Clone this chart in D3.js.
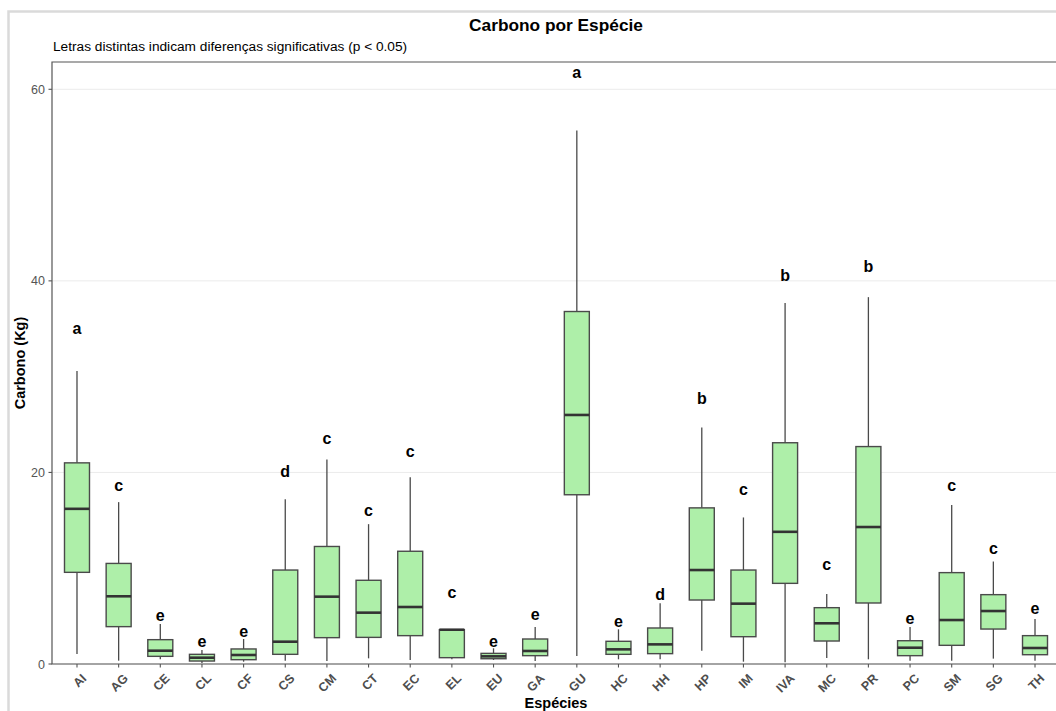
<!DOCTYPE html>
<html>
<head>
<meta charset="utf-8">
<script src="https://cdn.jsdelivr.net/npm/d3@7"></script>
<style>
  html, body { margin: 0; padding: 0; background: #fff; }
  svg { display: block; font-family: "Liberation Sans", Arial, Helvetica, sans-serif; }
</style>
</head>
<body>
<svg id="chart" width="1056" height="711"></svg>
<script>
const species = ["AI","AG","CE","CL","CF","CS","CM","CT","EC","EL","EU","GA","GU","HC","HH","HP","IM","IVA","MC","PR","PC","SM","SG","TH"];
const whiskerLow  = [1.04, 0.35, 0.49, 0.10, 0.24, 0.35, 0.31, 0.59, 0.42, 0.50, 0.42, 0.31, 0.84, 0.49, 0.49, 1.39, 0.24, 0.17, 0.63, 0.49, 0.35, 0.35, 0.56, 0.35];
const q1          = [9.57, 3.90, 0.80, 0.31, 0.45, 1.01, 2.75, 2.78, 2.96, 0.66, 0.55, 0.87, 17.67, 1.01, 1.08, 6.68, 2.85, 8.42, 2.40, 6.37, 0.87, 1.95, 3.65, 0.97];
const medians     = [16.2, 7.07, 1.39, 0.66, 0.94, 2.33, 7.03, 5.36, 5.95, 3.58, 0.80, 1.36, 26.0, 1.53, 2.05, 9.81, 6.30, 13.8, 4.25, 14.3, 1.70, 4.59, 5.53, 1.67];
const q3          = [21.0, 10.5, 2.54, 1.01, 1.57, 9.81, 12.27, 8.74, 11.77, 3.58, 1.11, 2.61, 36.8, 2.37, 3.76, 16.3, 9.81, 23.1, 5.88, 22.7, 2.43, 9.54, 7.24, 2.96];
const whiskerHigh = [30.6, 16.9, 4.18, 1.46, 2.61, 17.2, 21.35, 14.6, 19.5, 3.58, 1.64, 3.86, 55.7, 3.62, 6.33, 24.7, 15.3, 37.7, 7.31, 38.3, 3.86, 16.6, 10.7, 4.70];
const letters     = ["a","c","e","e","e","d","c","c","c","c","e","e","a","e","d","b","c","b","c","b","e","c","c","e"];
const letterY     = [34.9, 18.5, 4.94, 2.22, 3.27, 20.08, 23.39, 15.9, 22.07, 7.31, 2.22, 5.01, 61.62, 4.31, 7.28, 27.8, 18.09, 40.61, 10.26, 41.48, 4.67, 18.51, 11.9, 5.64];
const yTicks = [0, 20, 40, 60];

const title = "Carbono por Espécie";
const subtitle = "Letras distintas indicam diferenças significativas (p < 0.05)";
const xTitle = "Espécies";
const yTitle = "Carbono (Kg)";

const data = species.map((s, i) => ({
  s, lo: whiskerLow[i], q1: q1[i], med: medians[i], q3: q3[i], hi: whiskerHigh[i],
  letter: letters[i], ly: letterY[i]
}));

const svg = d3.select("#chart");
const panel = { left: 52, right: 1060, top: 62, bottom: 664 };

// outer frame
svg.append("rect")
  .attr("x", 8.5).attr("y", 11.5)
  .attr("width", 1100).attr("height", 800)
  .attr("fill", "none").attr("stroke", "#dadada").attr("stroke-width", 2.5);

const x = d3.scaleBand().domain(species)
  .range([panel.left, panel.right]).paddingInner(0).paddingOuter(0.1);
const y = d3.scaleLinear().domain([0, 62.85]).range([panel.bottom, panel.top]);

// gridlines
svg.append("g").selectAll("line").data(yTicks).join("line")
  .attr("x1", panel.left).attr("x2", panel.right)
  .attr("y1", d => y(d)).attr("y2", d => y(d))
  .attr("stroke", "#ebebeb").attr("stroke-width", 1);

const cx = d => x(d.s) + x.bandwidth() / 2;
const bw = x.bandwidth() * 0.6;

const g = svg.append("g");
// whiskers
g.selectAll("line.wl").data(data).join("line").attr("class", "wl")
  .attr("x1", cx).attr("x2", cx)
  .attr("y1", d => y(d.lo)).attr("y2", d => y(d.q1))
  .attr("stroke", "#4a4a4a").attr("stroke-width", 1.3);
g.selectAll("line.wh").data(data).join("line").attr("class", "wh")
  .attr("x1", cx).attr("x2", cx)
  .attr("y1", d => y(d.q3)).attr("y2", d => y(d.hi))
  .attr("stroke", "#4a4a4a").attr("stroke-width", 1.3);
// boxes
g.selectAll("rect.box").data(data).join("rect").attr("class", "box")
  .attr("x", d => cx(d) - bw / 2).attr("width", bw)
  .attr("y", d => y(d.q3)).attr("height", d => Math.max(0, y(d.q1) - y(d.q3)))
  .attr("fill", "#aeefa9").attr("stroke", "#4a4a4a").attr("stroke-width", 1.4);
// medians
g.selectAll("line.med").data(data).join("line").attr("class", "med")
  .attr("x1", d => cx(d) - bw / 2).attr("x2", d => cx(d) + bw / 2)
  .attr("y1", d => y(d.med)).attr("y2", d => y(d.med))
  .attr("stroke", "#333333").attr("stroke-width", 2.6);

// letters
g.selectAll("text.let").data(data).join("text").attr("class", "let")
  .attr("x", cx)
  .attr("y", d => y(d.ly) + (/[bd]/.test(d.letter) ? 5.8 : 4.4))
  .attr("text-anchor", "middle")
  .attr("font-size", 16).attr("font-weight", "bold").attr("fill", "#000")
  .text(d => d.letter);

// panel border (left, top, bottom)
svg.append("path")
  .attr("d", `M${panel.right + 5},${panel.top}H${panel.left}V${panel.bottom}H${panel.right + 5}`)
  .attr("fill", "none").attr("stroke", "#555555").attr("stroke-width", 1.2);

// y axis
const yAxis = svg.append("g");
yAxis.selectAll("line").data(yTicks).join("line")
  .attr("x1", panel.left - 3.5).attr("x2", panel.left)
  .attr("y1", d => y(d)).attr("y2", d => y(d))
  .attr("stroke", "#555").attr("stroke-width", 1.1);
yAxis.selectAll("text").data(yTicks).join("text")
  .attr("x", panel.left - 7).attr("y", d => y(d) + 4.5)
  .attr("text-anchor", "end").attr("font-size", 12.5).attr("fill", "#555555")
  .text(d => d);

// x axis
const xAxis = svg.append("g");
xAxis.selectAll("line").data(species).join("line")
  .attr("x1", d => x(d) + x.bandwidth() / 2).attr("x2", d => x(d) + x.bandwidth() / 2)
  .attr("y1", panel.bottom).attr("y2", panel.bottom + 3.5)
  .attr("stroke", "#555").attr("stroke-width", 1.1);
xAxis.selectAll("text").data(species).join("text")
  .attr("transform", d => `translate(${x(d) + x.bandwidth() / 2 + 4},${panel.bottom + 9}) rotate(-45)`)
  .attr("text-anchor", "end").attr("dy", "0.7em")
  .attr("font-size", 12.5).attr("font-weight", "bold").attr("fill", "#4d4d4d")
  .text(d => d);

// titles
svg.append("text").attr("x", (panel.left + panel.right) / 2).attr("y", 31)
  .attr("text-anchor", "middle").attr("font-size", 17.3).attr("font-weight", "bold")
  .attr("fill", "#000").text(title);
svg.append("text").attr("x", panel.left + 1).attr("y", 51)
  .attr("font-size", 13.7).attr("fill", "#000").text(subtitle);
svg.append("text").attr("x", (panel.left + panel.right) / 2).attr("y", 708)
  .attr("text-anchor", "middle").attr("font-size", 14.5).attr("font-weight", "bold")
  .attr("fill", "#000").text(xTitle);
svg.append("text").attr("transform", `translate(25,${(panel.top + panel.bottom) / 2}) rotate(-90)`)
  .attr("text-anchor", "middle").attr("font-size", 14.5).attr("font-weight", "bold")
  .attr("fill", "#000").text(yTitle);
</script>
</body>
</html>
